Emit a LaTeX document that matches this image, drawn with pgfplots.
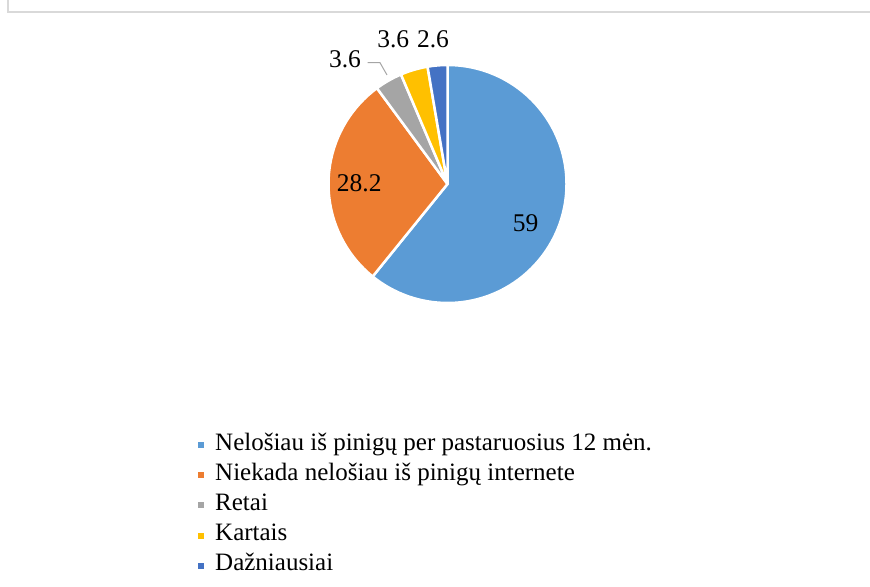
\documentclass[border=0pt]{standalone}
\usepackage{pgfplots}
\pgfplotsset{compat=1.18}
\usepackage{pgfplotstable}
\usepackage{fontspec}
\setmainfont{Liberation Serif}
\definecolor{cA}{HTML}{5B9BD5}
\definecolor{cB}{HTML}{ED7D31}
\definecolor{cC}{HTML}{A5A5A5}
\definecolor{cD}{HTML}{FFC000}
\definecolor{cE}{HTML}{4472C4}
\definecolor{frame}{HTML}{D9D9D9}
\pgfplotstableread{
value
59
28.2
3.6
3.6
2.6
}\piedata
\begin{document}%
\pgfplotstablegetelem{0}{value}\of\piedata\let\vA\pgfplotsretval%
\pgfplotstablegetelem{1}{value}\of\piedata\let\vB\pgfplotsretval%
\pgfplotstablegetelem{2}{value}\of\piedata\let\vC\pgfplotsretval%
\pgfplotstablegetelem{3}{value}\of\piedata\let\vD\pgfplotsretval%
\pgfplotstablegetelem{4}{value}\of\piedata\let\vE\pgfplotsretval%
\pgfmathsetmacro\tot{\vA+\vB+\vC+\vD+\vE}%
\pgfmathsetmacro\aA{90}%
\pgfmathsetmacro\aB{\aA-360*(\vA/\tot)}%
\pgfmathsetmacro\aC{\aB-360*(\vB/\tot)}%
\pgfmathsetmacro\aD{\aC-360*(\vC/\tot)}%
\pgfmathsetmacro\aE{\aD-360*(\vD/\tot)}%
\pgfmathsetmacro\aF{\aA-360}%
\begin{tikzpicture}
\begin{axis}[width=870bp,height=586bp,scale only axis,
  xmin=0,xmax=870,ymin=0,ymax=586,hide axis,clip=false]
\coordinate (LL) at (rel axis cs:0,0);
\coordinate (UR) at (rel axis cs:1,1);
\fill[cA,draw=white,line width=2.5bp,line join=round] (axis cs:447.5,402) -- ++(\aA:119bp) arc[start angle=\aA,end angle=\aB,radius=119bp] -- cycle;
\fill[cB,draw=white,line width=2.5bp,line join=round] (axis cs:447.5,402) -- ++(\aB:119bp) arc[start angle=\aB,end angle=\aC,radius=119bp] -- cycle;
\fill[cC,draw=white,line width=2.5bp,line join=round] (axis cs:447.5,402) -- ++(\aC:119bp) arc[start angle=\aC,end angle=\aD,radius=119bp] -- cycle;
\fill[cD,draw=white,line width=2.5bp,line join=round] (axis cs:447.5,402) -- ++(\aD:119bp) arc[start angle=\aD,end angle=\aE,radius=119bp] -- cycle;
\fill[cE,draw=white,line width=2.5bp,line join=round] (axis cs:447.5,402) -- ++(\aE:119bp) arc[start angle=\aE,end angle=\aF,radius=119bp] -- cycle;
% frame
\draw[frame,line width=1.5bp] (axis cs:8,586) -- (axis cs:8,574) -- (axis cs:870,574);
% data labels
\node[font=\fontsize{25.5bp}{30bp}\selectfont,inner sep=0pt,anchor=center] at (axis cs:525.5,363) {59};
\node[font=\fontsize{25.5bp}{30bp}\selectfont,inner sep=0pt,anchor=center] at (axis cs:359.3,403) {28.2};
\node[font=\fontsize{25.5bp}{30bp}\selectfont,inner sep=0pt,anchor=center] at (axis cs:345,526.3) {3.6};
\node[font=\fontsize{25.5bp}{30bp}\selectfont,inner sep=0pt,anchor=center] at (axis cs:393.3,546.3) {3.6};
\node[font=\fontsize{25.5bp}{30bp}\selectfont,inner sep=0pt,anchor=center] at (axis cs:433,546.3) {2.6};
\draw[cC,line width=1bp] (axis cs:367.7,523.3) -- (axis cs:380,523.3) -- (axis cs:387,511);
% legend
\fill[cA] (axis cs:197.5,138) rectangle (axis cs:203.5,144);
\node[font=\fontsize{25bp}{30bp}\selectfont,inner sep=0pt,anchor=base west] at (axis cs:215,136) {Nelošiau iš pinigų per pastaruosius 12 mėn.};
\fill[cB] (axis cs:197.5,107.8) rectangle (axis cs:203.5,113.8);
\node[font=\fontsize{25bp}{30bp}\selectfont,inner sep=0pt,anchor=base west] at (axis cs:215,105.8) {Niekada nelošiau iš pinigų internete};
\fill[cC] (axis cs:197.5,77.6) rectangle (axis cs:203.5,83.6);
\node[font=\fontsize{25bp}{30bp}\selectfont,inner sep=0pt,anchor=base west] at (axis cs:215,75.6) {Retai};
\fill[cD] (axis cs:197.5,47.4) rectangle (axis cs:203.5,53.4);
\node[font=\fontsize{25bp}{30bp}\selectfont,inner sep=0pt,anchor=base west] at (axis cs:215,45.4) {Kartais};
\fill[cE] (axis cs:197.5,17.2) rectangle (axis cs:203.5,23.2);
\node[font=\fontsize{25bp}{30bp}\selectfont,inner sep=0pt,anchor=base west] at (axis cs:215,15.2) {Dažniausiai};
\end{axis}
\pgfresetboundingbox
\useasboundingbox (LL) rectangle (UR);
\end{tikzpicture}%
\end{document}
